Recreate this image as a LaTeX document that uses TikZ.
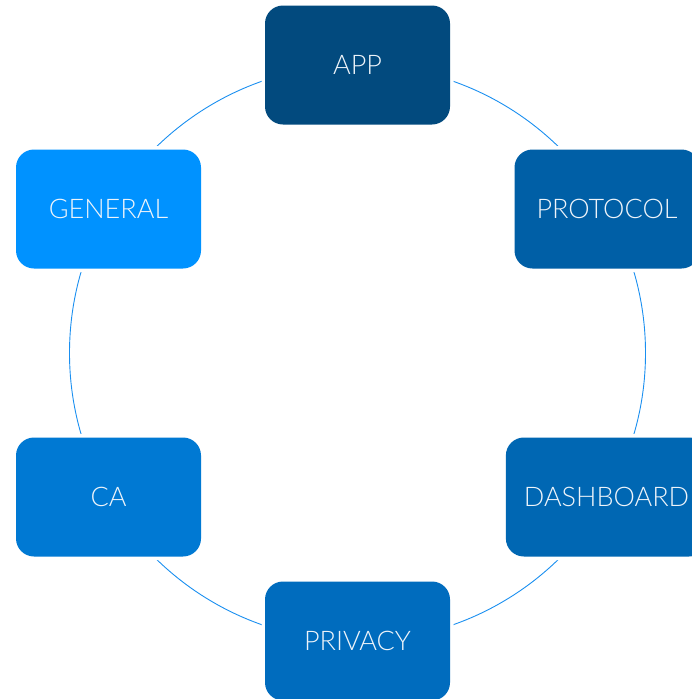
\documentclass[tikz,border=0pt]{standalone}
\usepackage{fontspec}
\setmainfont{Lato}[UprightFont=* Light]
\definecolor{ringblue}{HTML}{1A8FF0}
\definecolor{appblue}{HTML}{024A7E}
\definecolor{generalblue}{HTML}{0092FF}
\definecolor{protocolblue}{HTML}{005FA6}
\definecolor{dashblue}{HTML}{0067B3}
\definecolor{cablue}{HTML}{0079D3}
\definecolor{privacyblue}{HTML}{006CBE}
\definecolor{labelwhite}{HTML}{EEF4FA}
\begin{document}
\begin{tikzpicture}[x=1pt,y=-1pt,
  topic/.style={rounded corners=18pt, minimum width=185pt, minimum height=119pt,
    inner xsep=18pt, text=labelwhite, font=\fontsize{27}{31}\selectfont,
    preaction={draw=white, line width=7pt}},
  ring/.style={draw=ringblue, line width=0.9pt}]
  \useasboundingbox (0,0) rectangle (691,699);
  \coordinate (hub) at (357.5,353);
  % the ring that links the six topics
  \draw[ring] (hub) circle[radius=288pt];
  % topics placed on a hexagon round the hub
  \node[topic, fill=appblue]      (app)       at (357.5,65)   {APP};
  \node[topic, fill=protocolblue] (protocol)  at (607,209)    {PROTOCOL};
  \node[topic, fill=dashblue]     (dashboard) at (606.5,497)  {DASHBOARD};
  \node[topic, fill=privacyblue]  (privacy)   at (357.5,641)  {PRIVACY};
  \node[topic, fill=cablue]       (ca)        at (108.5,497)  {CA};
  \node[topic, fill=generalblue]  (general)   at (108.5,209)  {GENERAL};
\end{tikzpicture}
\end{document}
